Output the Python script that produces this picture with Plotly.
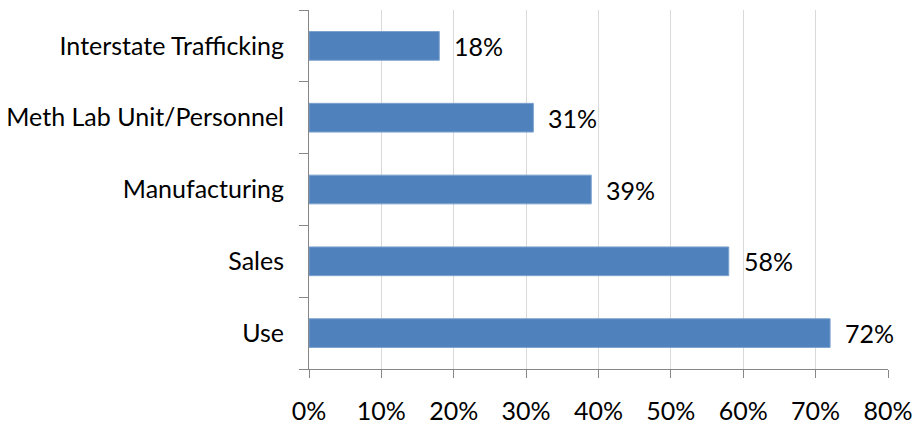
import plotly.graph_objects as go

categories = ["Use", "Sales", "Manufacturing", "Meth Lab Unit/Personnel", "Interstate Trafficking"]
values = [72, 58, 39, 31, 18]
tick_vals = [0, 10, 20, 30, 40, 50, 60, 70, 80]
tick_text = [f"{v}%" for v in tick_vals]

bar_color = "#4F81BD"
axis_color = "#868686"
grid_color = "#D9D9D9"
font_family = "Lato, Open Sans, sans-serif"
font_size = 25

fig = go.Figure(
    go.Bar(
        x=values,
        y=categories,
        orientation="h",
        marker=dict(color=bar_color, line=dict(color="#7DA2CE", width=1)),
        width=0.4,
        hoverinfo="skip",
    )
)

for cat, val in zip(categories, values):
    fig.add_annotation(
        x=val, y=cat, text=f"{val}%", showarrow=False,
        xanchor="left", xshift=13,
        font=dict(family=font_family, size=font_size, color="#000000"),
    )

fig.update_layout(
    width=913, height=424,
    margin=dict(l=309, r=25, t=10, b=55, autoexpand=False),
    paper_bgcolor="white", plot_bgcolor="white",
    showlegend=False,
    font=dict(family=font_family, size=font_size, color="#000000"),
)

fig.update_xaxes(
    range=[0, 80],
    tickvals=tick_vals, ticktext=tick_text,
    showgrid=True, gridcolor=grid_color, gridwidth=1,
    showline=True, linecolor=axis_color, linewidth=1,
    ticks="outside", ticklen=8, tickcolor=axis_color,
    ticklabelstandoff=12,
    zeroline=False, automargin=False,
)

fig.update_yaxes(
    categoryorder="array", categoryarray=categories,
    showgrid=False,
    showline=True, linecolor=axis_color, linewidth=1,
    ticks="outside", ticklen=9, tickcolor=axis_color,
    tickson="boundaries",
    ticklabelstandoff=19,
    automargin=False,
)

fig.write_html("out.html")
